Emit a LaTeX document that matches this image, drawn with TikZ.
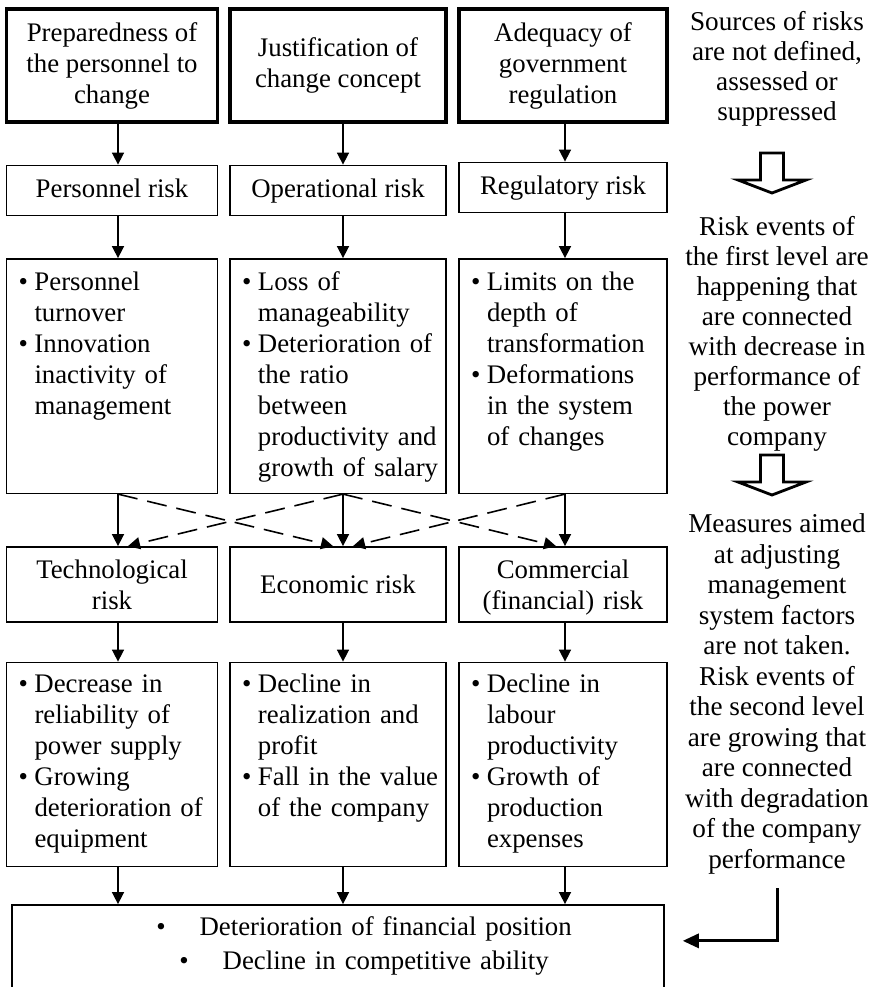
\documentclass[tikz,border=0pt]{standalone}
\usepackage{fontspec}
\setmainfont{Liberation Serif}
\usetikzlibrary{arrows.meta, positioning, calc}
\newcommand{\bul}[1]{\makebox[8pt][l]{\textbullet}\mbox{#1}}
\newcommand{\ind}[1]{\hspace*{8pt}\mbox{#1}}
\tikzset{
  rkbox/.style={rectangle, draw=black, line width=0.75pt, fill=white, align=center,
    inner sep=4pt, font=\fontsize{13.4}{15.5}\selectfont},
  rkfact/.style={rkbox, line width=1.6pt, minimum height=56.5pt},
  rkrisk/.style={rkbox, minimum height=25pt, text height=10pt, text depth=3pt},
  rkrisk2/.style={rkbox, minimum height=37.5pt},
  rkrisk2l/.style={rkrisk2, text height=12pt, text depth=17.5pt},
  rklist/.style={rkbox, align=left, inner xsep=6pt, inner ysep=4pt},
  rknote/.style={align=center, inner sep=0pt, font=\fontsize{13.6}{15}\selectfont},
  rkarr/.style={-{Triangle[length=6pt,width=6pt]}, line width=0.8pt},
  rkdash/.style={rkarr, dash pattern=on 10pt off 5pt},
  rkbend/.style={-{Triangle[length=8pt,width=7pt]}, line width=1.5pt},
  hollowdown/.pic={\draw[line width=1.4pt, fill=white] (-11.5,0) -- (-11.5,27) -- (-34,27)
    -- (0,40) -- (34,27) -- (11.5,27) -- (11.5,0) -- cycle;},
}

\begin{document}
\begin{tikzpicture}[x=0.5pt, y=-0.5pt]
  \useasboundingbox (0,0) rectangle (871,987);
  \foreach \c/\x in {a/118, b/343, c/565} {\coordinate (x\c) at (\x,0);}

  % factors
  \node[rkfact, minimum width=105.5pt] (r1a) at (112,65.5) {Preparedness of\\the personnel to\\change};
  \node[rkfact, minimum width=108pt] (r1b) at (338,65.5) {Justification of\\change concept};
  \node[rkfact, minimum width=104pt] (r1c) at (563,65.5) {Adequacy of\\government\\regulation};

  % first level risks
  \node[rkrisk, minimum width=105.5pt, below=20.5pt of r1a] (r2a) {Personnel risk};
  \node[rkrisk, minimum width=108pt, below=20.5pt of r1b] (r2b) {Operational risk};
  \node[rkrisk, minimum width=104pt, below=19pt of r1c] (r2c) {Regulatory risk};

  \node[rklist, text width=93.5pt, text height=12pt, text depth=97.25pt, below=21pt of r2a] (r3a)
    {\bul{Personnel}\\\ind{turnover}\\\bul{Innovation}\\\ind{inactivity of}\\\ind{management}};
  \node[rklist, text width=96pt, text height=12pt, text depth=97.25pt, below=21pt of r2b] (r3b)
    {\bul{Loss of}\\\ind{manageability}\\\bul{Deterioration of}\\\ind{the ratio}\\\ind{between}\\\ind{productivity and}\\\ind{growth of salary}};
  \node[rklist, text width=92pt, text height=12pt, text depth=97.25pt, below=22.5pt of r2c] (r3c)
    {\bul{Limits on the}\\\ind{depth of}\\\ind{transformation}\\\bul{Deformations}\\\ind{in the system}\\\ind{of changes}};

  % second level risks
  \node[rkrisk2l, text width=97.5pt, minimum width=105.5pt, below=26pt of r3a] (r4a) {Technological\\risk};
  \node[rkrisk2, minimum width=108pt, below=26pt of r3b] (r4b) {Economic risk};
  \node[rkrisk2l, text width=96pt, minimum width=104pt, below=26pt of r3c] (r4c) {Commercial\\(financial) risk};

  \node[rklist, text width=93.5pt, text height=11pt, text depth=83pt, below=19.5pt of r4a] (r5a)
    {\bul{Decrease in}\\\ind{reliability of}\\\ind{power supply}\\\bul{Growing}\\\ind{deterioration of}\\\ind{equipment}};
  \node[rklist, text width=96pt, text height=11pt, text depth=83pt, below=19.5pt of r4b] (r5b)
    {\bul{Decline in}\\\ind{realization and}\\\ind{profit}\\\bul{Fall in the value}\\\ind{of the company}};
  \node[rklist, text width=92pt, text height=11pt, text depth=83pt, below=19.5pt of r4c] (r5c)
    {\bul{Decline in}\\\ind{labour}\\\ind{productivity}\\\bul{Growth of}\\\ind{production}\\\ind{expenses}};

  \node[rkbox, font=\fontsize{13.4}{17}\selectfont, text width=318pt, text height=11.5pt,
    text depth=23.5pt, below=18.5pt of r5b] (fin)
    {\hspace*{26pt}\textbullet\hspace{17pt}Deterioration of financial position\\
     \hspace*{26pt}\textbullet\hspace{17pt}Decline in competitive ability};

  \foreach \c in {a,b,c} {
    \draw[rkarr] (r1\c.south -| x\c) -- (r2\c.north -| x\c);
    \draw[rkarr] (r2\c.south -| x\c) -- (r3\c.north -| x\c);
    \draw[rkarr] (r3\c.south -| x\c) -- (r4\c.north -| x\c);
    \draw[rkarr] (r4\c.south -| x\c) -- (r5\c.north -| x\c);
    \draw[rkarr] (r5\c.south -| x\c) -- (fin.north -| x\c);
  }
  \draw[rkdash] (r3a.south -| xa) -- ($(r4b.north -| xb)+(-10,0)$);
  \draw[rkdash] (r3b.south -| xb) -- ($(r4a.north -| xa)+(10,0)$);
  \draw[rkdash] (r3b.south -| xb) -- ($(r4c.north -| xc)+(-9,0)$);
  \draw[rkdash] (r3c.south -| xc) -- ($(r4b.north -| xb)+(10,0)$);

  % comments on the right
  \node[rknote] (src) at (777,69) {Sources of risks\\are not defined,\\assessed or\\suppressed};
  \pic at (772,153) {hollowdown};
  \node[rknote] (ev1) at (777,334) {Risk events of\\the first level are\\happening that\\are connected\\with decrease in\\performance of\\the power\\company};
  \pic at (772,455) {hollowdown};
  \node[rknote, font=\fontsize{13.6}{15.25}\selectfont] (msr) at (777,694) {Measures aimed\\at adjusting\\management\\system factors\\are not taken.\\Risk events of\\the second level\\are growing that\\are connected\\with degradation\\of the company\\performance};
  \coordinate (bstart) at ($(msr.south)+(0,14)$);
  \coordinate (bend) at ($(fin.east)+(18,-7)$);
  \draw[rkbend] (bstart) |- (bend);
\end{tikzpicture}
\end{document}
